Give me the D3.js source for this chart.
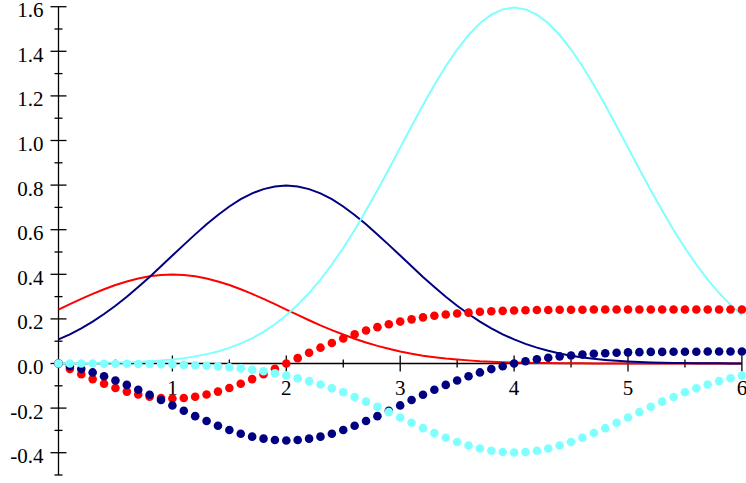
<!DOCTYPE html>
<html>
<head>
<meta charset="utf-8">
<script src="https://cdn.jsdelivr.net/npm/d3@7"></script>
<style>
  html, body { margin: 0; padding: 0; background: #fff; }
  svg { display: block; }
</style>
</head>
<body>
<svg id="chart" width="746" height="483"></svg>
<script>
// x positions, sampled every 0.1 from 0 to 6
const xs = d3.range(0, 61).map(i => +(i / 10).toFixed(1));

// Solid curves
const redLine = [0.242,0.266,0.290,0.312,0.333,0.352,0.368,0.381,0.391,0.397,0.399,0.397,0.391,0.381,0.368,0.352,0.333,0.312,0.290,0.266,
  0.242,0.218,0.194,0.171,0.150,0.130,0.111,0.094,0.079,0.066,0.054,0.044,0.035,0.028,0.022,0.018,0.014,0.010,0.008,0.006,
  0.004,0.003,0.002,0.002,0.001,0.001,0.001,0.000,0.000,0.000,0.000,0.000,0.000,0.000,0.000,0.000,0.000,0.000,0.000,0.000,0.000];
const navyLine = [0.108,0.131,0.158,0.188,0.222,0.259,0.299,0.343,0.388,0.436,0.484,0.532,0.579,0.624,0.666,0.704,0.737,0.763,0.782,0.794,
  0.798,0.794,0.782,0.763,0.737,0.704,0.666,0.624,0.579,0.532,0.484,0.436,0.388,0.343,0.299,0.259,0.222,0.188,0.158,0.131,
  0.108,0.088,0.071,0.057,0.045,0.035,0.027,0.021,0.016,0.012,0.009,0.007,0.005,0.003,0.002,0.002,0.001,0.001,0.001,0.000,0.000];
const cyanLine = [0.001,0.001,0.001,0.002,0.003,0.004,0.005,0.007,0.010,0.013,0.018,0.024,0.032,0.042,0.054,0.070,0.090,0.113,0.142,0.176,
  0.216,0.263,0.316,0.376,0.444,0.518,0.599,0.686,0.777,0.871,0.968,1.064,1.159,1.249,1.333,1.408,1.473,1.526,1.564,1.588,
  1.596,1.588,1.564,1.526,1.473,1.408,1.333,1.249,1.159,1.064,0.968,0.871,0.777,0.686,0.599,0.518,0.444,0.376,0.316,0.263,0.216];

// Dotted (point) series
const redDots = [0.000,-0.024,-0.048,-0.070,-0.091,-0.110,-0.126,-0.139,-0.149,-0.155,-0.157,-0.155,-0.149,-0.139,-0.126,-0.110,-0.091,-0.070,-0.048,-0.024,
  0.000,0.024,0.048,0.071,0.092,0.112,0.131,0.148,0.163,0.176,0.188,0.198,0.207,0.214,0.220,0.224,0.228,0.232,0.234,0.236,
  0.238,0.239,0.240,0.240,0.241,0.241,0.241,0.242,0.242,0.242,0.242,0.242,0.242,0.242,0.242,0.242,0.242,0.242,0.242,0.242,0.242];
const navyDots = [0.000,-0.012,-0.025,-0.040,-0.057,-0.076,-0.096,-0.118,-0.140,-0.164,-0.188,-0.212,-0.236,-0.258,-0.279,-0.298,-0.315,-0.328,-0.337,-0.343,
  -0.345,-0.343,-0.337,-0.328,-0.315,-0.298,-0.279,-0.258,-0.236,-0.212,-0.188,-0.164,-0.140,-0.118,-0.096,-0.076,-0.057,-0.040,-0.025,-0.012,
  0.000,0.010,0.019,0.026,0.032,0.036,0.040,0.044,0.046,0.048,0.050,0.051,0.052,0.052,0.053,0.053,0.053,0.054,0.054,0.054,0.054];
const cyanDots = [0.000,0.000,0.000,0.000,-0.001,-0.001,-0.001,-0.002,-0.002,-0.003,-0.004,-0.006,-0.008,-0.010,-0.013,-0.017,-0.022,-0.028,-0.035,-0.044,
  -0.054,-0.066,-0.079,-0.094,-0.111,-0.129,-0.150,-0.171,-0.194,-0.218,-0.242,-0.266,-0.290,-0.312,-0.333,-0.352,-0.368,-0.381,-0.391,-0.397,
  -0.399,-0.397,-0.391,-0.381,-0.368,-0.352,-0.333,-0.312,-0.290,-0.266,-0.242,-0.218,-0.194,-0.171,-0.150,-0.129,-0.111,-0.094,-0.079,-0.066,-0.054];

// Tick values
const xTicks = [1, 2, 3, 4, 5, 6];
const xMinorTicks = [0.5, 1.5, 2.5, 3.5, 4.5, 5.5];
const yTicks = [-0.4, -0.2, 0.0, 0.2, 0.4, 0.6, 0.8, 1.0, 1.2, 1.4, 1.6];
const yMinorTicks = [-0.5, -0.3, -0.1, 0.1, 0.3, 0.5, 0.7, 0.9, 1.1, 1.3, 1.5];

const FONT = "'Liberation Serif', 'Times New Roman', Times, serif";
const FONT_SIZE = 21;

const svg = d3.select("#chart");
const x = d3.scaleLinear().domain([0, 6]).range([58.5, 741.9]);
const y = d3.scaleLinear().domain([-0.4, 1.6]).range([452.7, 6.7]);

// Axes
const axisG = svg.append("g").attr("stroke", "#000").attr("stroke-width", 1.3);
axisG.append("line")
  .attr("x1", x(0)).attr("x2", x(6)).attr("y1", y(0)).attr("y2", y(0));
axisG.append("line")
  .attr("x1", x(0)).attr("x2", x(0)).attr("y1", y(-0.5)).attr("y2", y(1.6));

axisG.selectAll(".xmaj").data(xTicks).join("line")
  .attr("x1", d => x(d)).attr("x2", d => x(d))
  .attr("y1", y(0) - 8).attr("y2", y(0) + 8);
axisG.selectAll(".xmin").data(xMinorTicks).join("line")
  .attr("x1", d => x(d)).attr("x2", d => x(d))
  .attr("y1", y(0) - 4).attr("y2", y(0) + 4);
axisG.selectAll(".ymaj").data(yTicks).join("line")
  .attr("x1", x(0) - 8).attr("x2", x(0) + 8)
  .attr("y1", d => y(d)).attr("y2", d => y(d));
axisG.selectAll(".ymin").data(yMinorTicks).join("line")
  .attr("x1", x(0) - 4).attr("x2", x(0) + 4)
  .attr("y1", d => y(d)).attr("y2", d => y(d));

svg.append("g").selectAll("text").data(xTicks).join("text")
  .attr("font-family", FONT)
  .attr("font-size", FONT_SIZE)
  .attr("fill", "#000")
  .attr("x", d => x(d)).attr("y", y(0) + 31.5)
  .attr("text-anchor", "middle")
  .text(d => d3.format("d")(d));

svg.append("g").selectAll("text").data(yTicks).join("text")
  .attr("font-family", FONT)
  .attr("font-size", FONT_SIZE)
  .attr("fill", "#000")
  .attr("x", x(0) - 15).attr("y", d => y(d) + 10.5)
  .attr("text-anchor", "end")
  .text(d => d3.format(".1f")(d).replace("\u2212", "-"));

// Solid curves
const line = d3.line().x((d, i) => x(xs[i])).y(d => y(d));
const lines = [
  { values: redLine, color: "#ff0000" },
  { values: navyLine, color: "#000080" },
  { values: cyanLine, color: "#80ffff" }
];
svg.append("g").selectAll("path").data(lines).join("path")
  .attr("fill", "none")
  .attr("stroke", d => d.color)
  .attr("stroke-width", 2)
  .attr("d", d => line(d.values));

// Dotted series
const dots = [
  { values: redDots, color: "#ff0000" },
  { values: navyDots, color: "#000080" },
  { values: cyanDots, color: "#80ffff" }
];
dots.forEach(s => {
  svg.append("g").selectAll("circle").data(s.values).join("circle")
    .attr("cx", (d, i) => x(xs[i]))
    .attr("cy", d => y(d))
    .attr("r", 4.3)
    .attr("fill", s.color);
});
</script>
</body>
</html>
